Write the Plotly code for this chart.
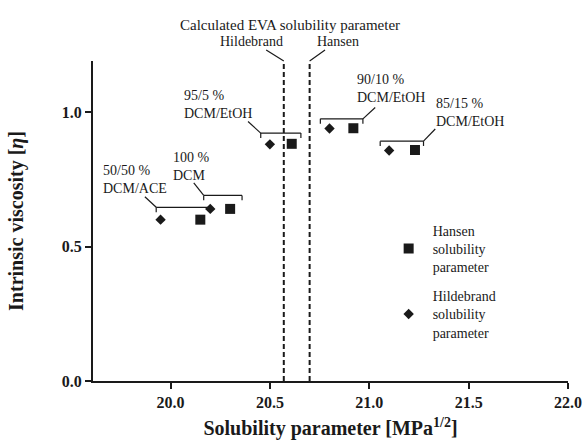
import plotly.graph_objects as go

# ---- data ----
solvent_labels = ["50/50 %<br>DCM/ACE", "100 %<br>DCM", "95/5 %<br>DCM/EtOH",
                  "90/10 %<br>DCM/EtOH", "85/15 %<br>DCM/EtOH"]
hansen_x = [20.15, 20.30, 20.61, 20.92, 21.23]
hansen_y = [0.600, 0.640, 0.882, 0.940, 0.859]
hildebrand_x = [19.95, 20.20, 20.50, 20.80, 21.10]
hildebrand_y = [0.600, 0.640, 0.880, 0.939, 0.857]
eva_hildebrand = 20.57
eva_hansen = 20.70
x_ticks = [20.0, 20.5, 21.0, 21.5, 22.0]
y_ticks = [0.0, 0.5, 1.0]

# bracket geometry (data units) and label anchors
bracket_x0 = [19.928, 20.167, 20.454, 20.754, 21.055]
bracket_x1 = [20.197, 20.360, 20.656, 20.968, 21.273]
bracket_y = [0.646, 0.690, 0.922, 0.975, 0.892]
bracket_tick = 0.018
leader_from_right = [False, False, False, True, True]
leader_end_x = [19.871, 20.117, 20.390, 21.030, 21.332]
leader_end_y = [0.685, 0.737, 0.965, 1.017, 0.937]
label_left_x = [19.652, 20.004, 20.059, 20.929, 21.328]
label_y = [0.751, 0.796, 1.028, 1.088, 1.000]

FONT = "Liberation Serif"
INK = "#1a1a1a"
Y_MAX = 1.19

fig = go.Figure()
fig.add_trace(go.Scatter(
    x=hansen_x, y=hansen_y, mode="markers", name="Hansen<br>solubility<br>parameter",
    legendgroup="a",
    marker=dict(symbol="square", size=10, color=INK)))
fig.add_trace(go.Scatter(
    x=hildebrand_x, y=hildebrand_y, mode="markers", name="Hildebrand<br>solubility<br>parameter",
    legendgroup="b",
    marker=dict(symbol="diamond", size=8, color=INK)))

shapes = []
for xv in (eva_hildebrand, eva_hansen):
    shapes.append(dict(type="line", xref="x", yref="y", x0=xv, x1=xv, y0=0, y1=Y_MAX,
                       line=dict(color=INK, width=2, dash="5px,3px")))
for i in range(len(bracket_x0)):
    x0, x1, yb = bracket_x0[i], bracket_x1[i], bracket_y[i]
    lw = dict(color=INK, width=1.2)
    shapes.append(dict(type="line", xref="x", yref="y", x0=x0, x1=x1, y0=yb, y1=yb, line=lw))
    shapes.append(dict(type="line", xref="x", yref="y", x0=x0, x1=x0, y0=yb, y1=yb - bracket_tick, line=lw))
    shapes.append(dict(type="line", xref="x", yref="y", x0=x1, x1=x1, y0=yb, y1=yb - bracket_tick, line=lw))
    sx = x1 if leader_from_right[i] else x0
    shapes.append(dict(type="line", xref="x", yref="y", x0=sx, x1=leader_end_x[i], y0=yb,
                       y1=leader_end_y[i], line=lw))

annotations = []
for i, t in enumerate(solvent_labels):
    annotations.append(dict(x=label_left_x[i], y=label_y[i], xref="x", yref="y", text=t,
                            showarrow=False, align="left", xanchor="left",
                            font=dict(family=FONT, size=14, color=INK)))
annotations.append(dict(x=0.415, y=1.1125, xref="paper", yref="paper",
                        xanchor="center", yanchor="middle",
                        text="Calculated EVA solubility parameter", showarrow=False,
                        font=dict(family=FONT, size=15, color=INK)))
annotations.append(dict(x=eva_hildebrand, y=Y_MAX, ax=-32, ay=-20, xref="x", yref="y",
                        text="Hildebrand", showarrow=True, arrowhead=0, arrowwidth=1.2,
                        arrowcolor=INK, font=dict(family=FONT, size=14, color=INK)))
annotations.append(dict(x=eva_hansen, y=Y_MAX, ax=28, ay=-20, xref="x", yref="y",
                        text="Hansen", showarrow=True, arrowhead=0, arrowwidth=1.2,
                        arrowcolor=INK, font=dict(family=FONT, size=14, color=INK)))

axis_common = dict(showgrid=False, zeroline=False, showline=True, linecolor=INK, linewidth=2,
                   ticks="outside", ticklen=6, tickwidth=2, tickcolor=INK,
                   tickfont=dict(family=FONT, size=16, color=INK, weight="bold"))

fig.update_layout(
    width=583, height=440,
    margin=dict(l=93, r=15, t=61, b=59),
    paper_bgcolor="white", plot_bgcolor="white",
    shapes=shapes, annotations=annotations,
    showlegend=True,
    legend=dict(x=0.614, y=0.52, xanchor="left", yanchor="top",
                font=dict(family=FONT, size=14, color=INK), itemwidth=38,
                tracegroupgap=8, bgcolor="rgba(0,0,0,0)"),
    xaxis=dict(range=[19.61, 22.0], tickvals=x_ticks, ticktext=[f"{v:.1f}" for v in x_ticks],
               title=dict(text="Solubility parameter [MPa<sup>1/2</sup>]", standoff=12,
                          font=dict(family=FONT, size=20, color=INK, weight="bold")),
               automargin=False, **axis_common),
    yaxis=dict(range=[0, Y_MAX], tickvals=y_ticks, ticktext=[f"{v:.1f}" for v in y_ticks],
               title=dict(text="Intrinsic viscosity [<i>η</i>]", standoff=33,
                          font=dict(family=FONT, size=20, color=INK, weight="bold")),
               automargin=False, **axis_common),
)

fig.write_html("out.html", config={"displayModeBar": False},
               post_script="document.body.style.margin='0';document.body.style.overflow='hidden';")
